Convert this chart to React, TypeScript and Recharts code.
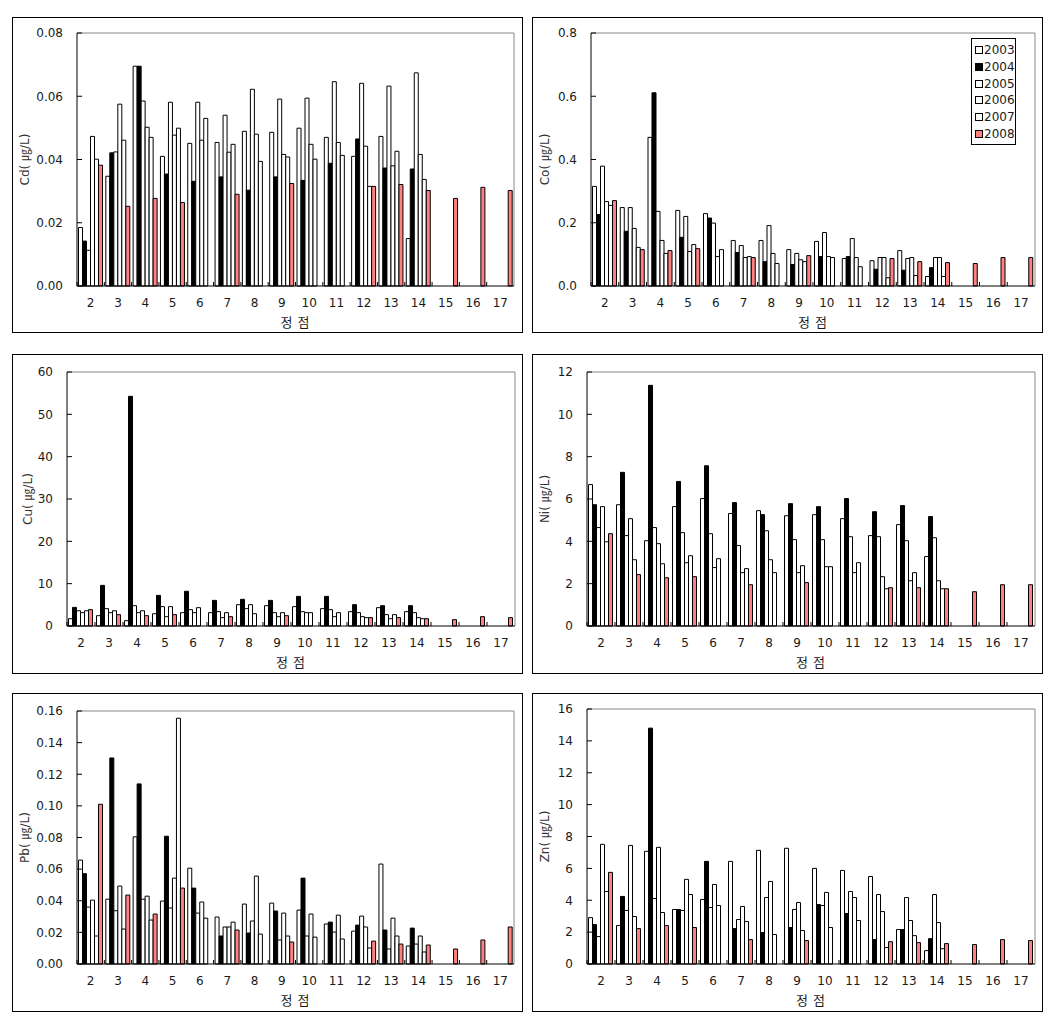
import React from "react";
import { BarChart, Bar, XAxis, YAxis, Legend, CartesianGrid } from "recharts";

const stations = ["2", "3", "4", "5", "6", "7", "8", "9", "10", "11", "12", "13", "14", "15", "16", "17"];
const years = ["2003", "2004", "2005", "2006", "2007", "2008"];
const yearFills = ["#ffffff", "#000000", "#ffffff", "#ffffff", "#ffffff", "#ff8080"];
const stationTitle = "정 점";

// Cd
const cd2003 = [0.0185, 0.0347, 0.0695, 0.041, 0.0451, 0.0454, 0.0489, 0.0486, 0.0499, 0.047, 0.041, 0.0473, 0.015, null, null, null];
const cd2004 = [0.0142, 0.0421, 0.0695, 0.0354, 0.0331, 0.0345, 0.0303, 0.0345, 0.0334, 0.0388, 0.0465, 0.0373, 0.037, null, null, null];
const cd2005 = [0.0113, 0.0424, 0.0585, 0.0581, 0.0581, 0.054, 0.0622, 0.0591, 0.0594, 0.0646, 0.0641, 0.0632, 0.0674, null, null, null];
const cd2006 = [0.0473, 0.0575, 0.0502, 0.0477, 0.0461, 0.0423, 0.048, 0.0416, 0.0448, 0.0454, 0.0442, 0.038, 0.0416, null, null, null];
const cd2007 = [0.0401, 0.0461, 0.047, 0.0499, 0.053, 0.0448, 0.0394, 0.0408, 0.0401, 0.0413, 0.0315, 0.0426, 0.0337, null, null, null];
const cd2008 = [0.0382, 0.0252, 0.0277, 0.0264, null, 0.029, null, 0.0324, null, null, 0.0315, 0.0321, 0.0302, 0.0277, 0.0312, 0.0302];

// Co
const co2003 = [0.315, 0.248, 0.47, 0.239, 0.229, 0.144, 0.144, 0.115, 0.141, 0.087, 0.08, 0.112, 0.03, null, null, null];
const co2004 = [0.226, 0.173, 0.611, 0.154, 0.215, 0.106, 0.077, 0.068, 0.093, 0.093, 0.053, 0.05, 0.058, null, null, null];
const co2005 = [0.379, 0.248, 0.236, 0.22, 0.199, 0.128, 0.191, 0.103, 0.169, 0.15, 0.09, 0.087, 0.09, null, null, null];
const co2006 = [0.267, 0.182, 0.144, 0.109, 0.093, 0.09, 0.103, 0.083, 0.093, 0.09, 0.09, 0.09, 0.09, null, null, null];
const co2007 = [0.255, 0.122, 0.103, 0.131, 0.115, 0.093, 0.071, 0.077, 0.09, 0.061, 0.026, 0.033, 0.03, null, null, null];
const co2008 = [0.27, 0.115, 0.112, 0.118, null, 0.09, null, 0.096, null, null, 0.087, 0.077, 0.074, 0.071, 0.09, 0.09];

// Cu
const cu2003 = [1.73, 2.44, 1.26, 2.9, 3.15, 3.15, 5.04, 4.8, 4.57, 4.1, 3.39, 4.33, 3.39, null, null, null];
const cu2004 = [4.4, 9.6, 54.25, 7.24, 8.2, 6.06, 6.3, 6.06, 7.0, 7.0, 5.04, 4.8, 4.8, null, null, null];
const cu2005 = [3.6, 4.1, 4.8, 4.57, 3.86, 3.39, 4.1, 3.15, 3.39, 3.86, 3.15, 2.68, 3.15, null, null, null];
const cu2006 = [3.15, 3.15, 3.15, 2.2, 3.15, 1.97, 5.04, 2.2, 3.15, 2.2, 2.2, 1.73, 1.97, null, null, null];
const cu2007 = [3.6, 3.6, 3.6, 4.57, 4.33, 3.15, 2.9, 3.15, 3.15, 3.15, 1.97, 2.68, 1.73, null, null, null];
const cu2008 = [3.86, 2.68, 2.44, 2.68, null, 2.2, null, 2.44, null, null, 1.97, 1.97, 1.73, 1.5, 2.2, 1.97];

// Ni
const ni2003 = [6.68, 5.73, 4.03, 5.64, 6.02, 5.31, 5.45, 5.21, 5.26, 5.07, 4.27, 4.79, 3.28, null, null, null];
const ni2004 = [5.73, 7.26, 11.37, 6.83, 7.57, 5.83, 5.26, 5.78, 5.64, 6.02, 5.4, 5.69, 5.17, null, null, null];
const ni2005 = [4.65, 4.27, 4.65, 4.41, 4.36, 3.8, 4.5, 4.08, 4.08, 4.22, 4.22, 4.03, 4.17, null, null, null];
const ni2006 = [5.64, 5.07, 3.89, 2.99, 2.76, 2.52, 3.13, 2.52, 2.8, 2.52, 2.33, 2.14, 2.14, null, null, null];
const ni2007 = [3.98, 3.13, 2.94, 3.32, 3.18, 2.71, 2.52, 2.85, 2.8, 2.99, 1.76, 2.52, 1.76, null, null, null];
const ni2008 = [4.36, 2.43, 2.28, 2.33, null, 1.95, null, 2.05, null, null, 1.81, 1.81, 1.76, 1.62, 1.95, 1.95];

// Pb
const pb2003 = [0.0657, 0.041, 0.0804, 0.0398, 0.0606, 0.0297, 0.0379, 0.0385, 0.0341, 0.0253, 0.0208, 0.0632, 0.0114, null, null, null];
const pb2004 = [0.0571, 0.1303, 0.1139, 0.0808, 0.048, 0.0177, 0.0196, 0.0335, 0.0543, 0.0265, 0.0246, 0.0215, 0.0227, null, null, null];
const pb2005 = [0.036, 0.0337, 0.041, 0.0354, 0.0322, 0.0234, 0.0272, 0.0152, 0.0177, 0.0202, 0.0303, 0.0095, 0.0126, null, null, null];
const pb2006 = [0.0404, 0.0493, 0.0429, 0.0543, 0.0392, 0.0234, 0.0556, 0.0322, 0.0316, 0.0309, 0.0234, 0.029, 0.0177, null, null, null];
const pb2007 = [0.0177, 0.0221, 0.0278, 0.1554, 0.029, 0.0265, 0.0189, 0.0177, 0.017, 0.0158, 0.0101, 0.0177, 0.0076, null, null, null];
const pb2008 = [0.101, 0.0436, 0.0316, 0.048, null, 0.0215, null, 0.0139, null, null, 0.0145, 0.0126, 0.012, 0.0095, 0.0152, 0.0234];

// Zn
const zn2003 = [2.91, 2.41, 7.07, 3.42, 4.05, 6.44, 7.13, 7.26, 6.0, 5.87, 5.49, 2.16, 0.84, null, null, null];
const zn2004 = [2.47, 4.24, 14.8, 3.42, 6.44, 2.22, 1.97, 2.29, 3.73, 3.17, 1.53, 2.16, 1.59, null, null, null];
const zn2005 = [1.72, 3.36, 4.11, 3.36, 3.54, 2.79, 4.17, 3.42, 3.67, 4.55, 4.36, 4.17, 4.36, null, null, null];
const zn2006 = [7.51, 7.44, 7.32, 5.31, 4.99, 3.61, 5.18, 3.86, 4.49, 4.17, 3.29, 2.73, 2.6, null, null, null];
const zn2007 = [4.55, 2.98, 3.23, 4.36, 3.67, 2.66, 1.85, 2.1, 2.29, 2.73, 1.03, 1.78, 0.96, null, null, null];
const zn2008 = [5.75, 2.22, 2.41, 2.29, null, 1.53, null, 1.47, null, null, 1.4, 1.34, 1.28, 1.22, 1.53, 1.47];

const cdTicks = [0, 0.02, 0.04, 0.06, 0.08];
const coTicks = [0, 0.2, 0.4, 0.6, 0.8];
const cuTicks = [0, 10, 20, 30, 40, 50, 60];
const niTicks = [0, 2, 4, 6, 8, 10, 12];
const pbTicks = [0, 0.02, 0.04, 0.06, 0.08, 0.1, 0.12, 0.14, 0.16];
const znTicks = [0, 2, 4, 6, 8, 10, 12, 14, 16];

// page-coordinate layout of each panel box and its plot area
const panels = [
  { name: "Cd", series: [cd2003, cd2004, cd2005, cd2006, cd2007, cd2008], ticks: cdTicks, digits: 2,
    box: [12, 17, 511, 316], plot: [77, 514, 33, 286], labelX: 25, legend: false },
  { name: "Co", series: [co2003, co2004, co2005, co2006, co2007, co2008], ticks: coTicks, digits: 1,
    box: [532, 17, 511, 316], plot: [591, 1035, 33, 286], labelX: 545, legend: true },
  { name: "Cu", series: [cu2003, cu2004, cu2005, cu2006, cu2007, cu2008], ticks: cuTicks, digits: 0,
    box: [12, 354, 511, 320], plot: [67, 515, 372, 626], labelX: 28, legend: false },
  { name: "Ni", series: [ni2003, ni2004, ni2005, ni2006, ni2007, ni2008], ticks: niTicks, digits: 0,
    box: [532, 354, 511, 320], plot: [587, 1035, 372, 626], labelX: 545, legend: false },
  { name: "Pb", series: [pb2003, pb2004, pb2005, pb2006, pb2007, pb2008], ticks: pbTicks, digits: 2,
    box: [12, 693, 511, 319], plot: [77, 514, 711, 964], labelX: 25, legend: false },
  { name: "Zn", series: [zn2003, zn2004, zn2005, zn2006, zn2007, zn2008], ticks: znTicks, digits: 0,
    box: [532, 693, 511, 319], plot: [587, 1035, 709, 964], labelX: 545, legend: false },
];

const tickFont = { fontFamily: "'DejaVu Sans', sans-serif", fontSize: 12, fill: "#1a1a1a" };

function Panel({ p }: { p: (typeof panels)[number] }) {
  const [bx, by, bw, bh] = p.box;
  const [pl, pr, pt, pb] = p.plot;
  const ox = bx + 1;
  const oy = by + 1;
  const cw = bw - 2;
  const ch = bh - 2;
  const yAxisW = pl - ox;
  const xAxisH = oy + ch - pb;
  const axisY = pb - oy;
  const axisX = pl - ox;
  const band = (pr - pl) / stations.length;

  const rows = stations.map((s, i) => {
    const row: Record<string, string | number | null> = { station: s };
    years.forEach((yr, k) => {
      row["y" + yr] = p.series[k][i];
    });
    return row;
  });

  const xTick = (t: any) => (
    <g>
      <line x1={t.x - band / 2} x2={t.x - band / 2} y1={axisY} y2={axisY - 4} stroke="#000" />
      <text x={t.x} y={axisY + 21} textAnchor="middle" {...tickFont}>
        {t.payload.value}
      </text>
    </g>
  );

  const yTick = (t: any) => (
    <g>
      <line x1={axisX} x2={axisX + 5} y1={t.y} y2={t.y} stroke="#000" />
      <text x={axisX - 14} y={t.y} dy="0.36em" textAnchor="end" {...tickFont}>
        {Number(t.payload.value).toFixed(p.digits)}
      </text>
    </g>
  );

  const yLabel = () => {
    const cx = p.labelX - ox;
    const cy = (pt + pb) / 2 - oy;
    return (
      <text
        x={cx}
        y={cy}
        dy="0.36em"
        textAnchor="middle"
        transform={`rotate(-90, ${cx}, ${cy})`}
        fontFamily="'DejaVu Sans', 'Noto Sans CJK KR', sans-serif"
        fontSize={12}
        fill="#333"
      >
        {p.name + "( ㎍/L)"}
      </text>
    );
  };

  const xLabel = () => (
    <text
      x={(pl + pr) / 2 - ox}
      y={axisY + 41}
      textAnchor="middle"
      fontFamily="'Noto Sans CJK KR', sans-serif"
      fontSize={13}
      letterSpacing={1}
      fill="#1a1a1a"
    >
      {stationTitle}
    </text>
  );

  const legendContent = () => (
    <div
      style={{
        border: "1px solid #000",
        background: "#fff",
        padding: "3px 0 2px 3px",
        width: 40,
        fontFamily: "'DejaVu Sans', sans-serif",
        fontSize: 12,
        color: "#1a1a1a",
      }}
    >
      {years.map((yr, k) => (
        <div key={yr} style={{ display: "flex", alignItems: "center", height: 16.7 }}>
          <span
            style={{
              display: "inline-block",
              width: 6,
              height: 6,
              border: "1px solid #000",
              background: yearFills[k],
              marginRight: 1,
            }}
          />
          <span>{yr}</span>
        </div>
      ))}
    </div>
  );

  return (
    <div
      style={{
        position: "absolute",
        left: bx,
        top: by,
        width: bw,
        height: bh,
        border: "1px solid #000",
        boxSizing: "border-box",
        background: "#fff",
      }}
    >
      <BarChart
        width={cw}
        height={ch}
        data={rows}
        margin={{ top: pt - oy, right: ox + cw - pr, bottom: 0, left: 0 }}
        barGap={0}
        barCategoryGap={1.5}
      >
        <CartesianGrid
          stroke="#888"
          horizontalPoints={[pt - oy]}
          verticalPoints={[pr - ox]}
        />
        <XAxis
          dataKey="station"
          height={xAxisH}
          interval={0}
          tickLine={false}
          axisLine={{ stroke: "#000" }}
          tick={xTick}
          label={xLabel}
        />
        <YAxis
          width={yAxisW}
          domain={[p.ticks[0], p.ticks[p.ticks.length - 1]]}
          ticks={p.ticks}
          interval={0}
          tickLine={false}
          axisLine={{ stroke: "#000" }}
          tick={yTick}
          label={yLabel}
        />
        {years.map((yr, k) => (
          <Bar
            key={yr}
            dataKey={"y" + yr}
            name={yr}
            fill={yearFills[k]}
            stroke="#000"
            strokeWidth={1}
            isAnimationActive={false}
          />
        ))}
        {p.legend && (
          <Legend
            layout="vertical"
            align="center"
            verticalAlign="middle"
            content={legendContent}
            wrapperStyle={{ position: "absolute", left: 971 - ox, top: 38 - oy, width: 44 }}
          />
        )}
      </BarChart>
    </div>
  );
}

export default function App() {
  return (
    <div style={{ position: "absolute", left: 0, top: 0, width: 1059, height: 1023, background: "#fff" }}>
      {panels.map((p) => (
        <Panel key={p.name} p={p} />
      ))}
    </div>
  );
}
